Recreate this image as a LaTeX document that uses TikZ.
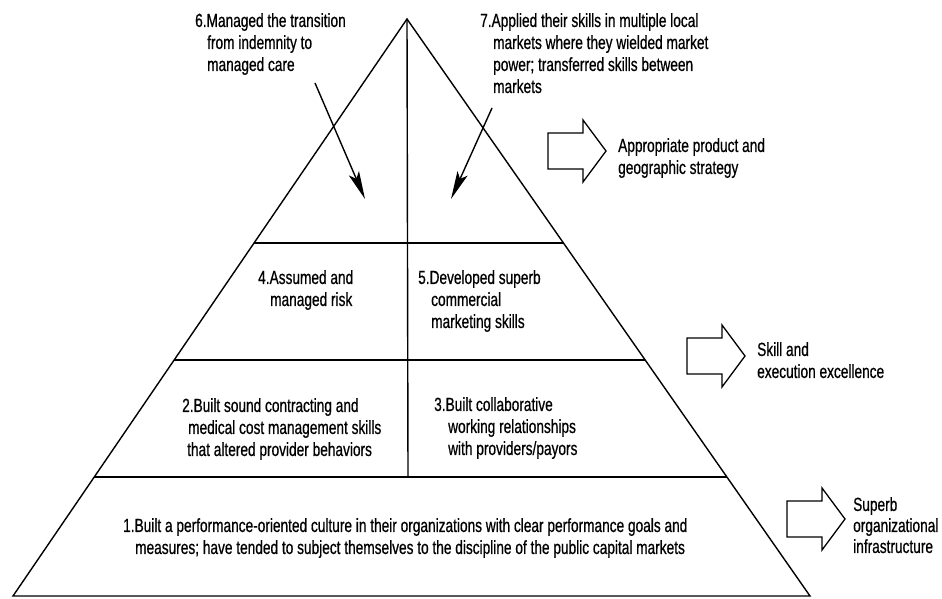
\documentclass[tikz,border=0pt]{standalone}
\usepackage{fontspec}
\setmainfont{Liberation Sans}[FakeStretch=0.72,FakeBold=0.6]
\usetikzlibrary{arrows.meta,calc}
\tikzset{
  edge/.style={line width=1.4pt, line join=miter},
  pointer/.style={line width=1.4pt, -{Stealth[length=28pt,width=11pt,inset=6pt]}},
  txt/.style={font=\fontsize{19}{22}\selectfont, align=left, anchor=north west, inner sep=0pt, text=black},
  blockarrow/.pic={\draw[line width=1.3pt] (0,-18) -- (35,-18) -- (35,-31) -- (58,0) -- (35,31) -- (35,18) -- (0,18) -- cycle;}
}
\begin{document}
\begin{tikzpicture}[x=1pt,y=-1pt]
\useasboundingbox[fill=white] (0,0) rectangle (942,599);
% pyramid
\coordinate (A) at (407,19);
\coordinate (BL) at (13,596);
\coordinate (BR) at (810,596);
\coordinate (L1) at ($(A)!0.3882!(BL)$);
\coordinate (R1) at ($(A)!0.3882!(BR)$);
\coordinate (L2) at ($(A)!0.5910!(BL)$);
\coordinate (R2) at ($(A)!0.5910!(BR)$);
\coordinate (L3) at ($(A)!0.7938!(BL)$);
\coordinate (R3) at ($(A)!0.7938!(BR)$);
\coordinate (V) at (408,477);
\draw[edge] (A) -- (BL) -- (BR) -- cycle;
\draw[edge] (L1) -- (R1);
\draw[edge] (L2) -- (R2);
\draw[edge] (L3) -- (R3);
\draw[edge] (A) -- (V);
% pointers
\coordinate (p6s) at (315,83);
\coordinate (p6e) at (365,199);
\coordinate (p7s) at (492,108);
\coordinate (p7e) at (451,199);
\draw[pointer] (p6s) -- (p6e);
\draw[pointer] (p7s) -- (p7e);
% texts
\node[txt] (t6) at (195,13) {6.Managed the transition\\\hspace*{12pt}from indemnity to\\\hspace*{12pt}managed care};
\node[txt] (t7) at (480,13) {7.Applied their skills in multiple local\\\hspace*{13pt}markets where they wielded market\\\hspace*{13pt}power; transferred skills between\\\hspace*{13pt}markets};
\node[txt] (t4) at (258,270) {4.Assumed and\\\hspace*{12pt}managed risk};
\node[txt] (t5) at (418,270) {5.Developed superb\\\hspace*{13pt}commercial\\\hspace*{13pt}marketing skills};
\node[txt] (t2) at (182,398) {2.Built sound contracting and\\\hspace*{6pt}medical cost management skills\\\hspace*{5pt}that altered provider behaviors};
\node[txt] (t3) at (434,397) {3.Built collaborative\\\hspace*{14pt}working relationships\\\hspace*{14pt}with providers/payors};
\node[txt] (t1) at (123,518) {1.Built a performance-oriented culture in their organizations with clear performance goals and\\\hspace*{12pt}measures; have tended to subject themselves to the discipline of the public capital markets};
% block arrows
\pic at (548,151) {blockarrow};
\pic at (687,356) {blockarrow};
\pic at (787,519) {blockarrow};
\node[txt] (a1) at (618,138) {Appropriate product and\\geographic strategy};
\node[txt] (a2) at (757,342) {Skill and\\execution excellence};
\node[txt, font=\fontsize{19}{21}\selectfont] (a3) at (853,497) {Superb\\organizational\\infrastructure};
\end{tikzpicture}
\end{document}
